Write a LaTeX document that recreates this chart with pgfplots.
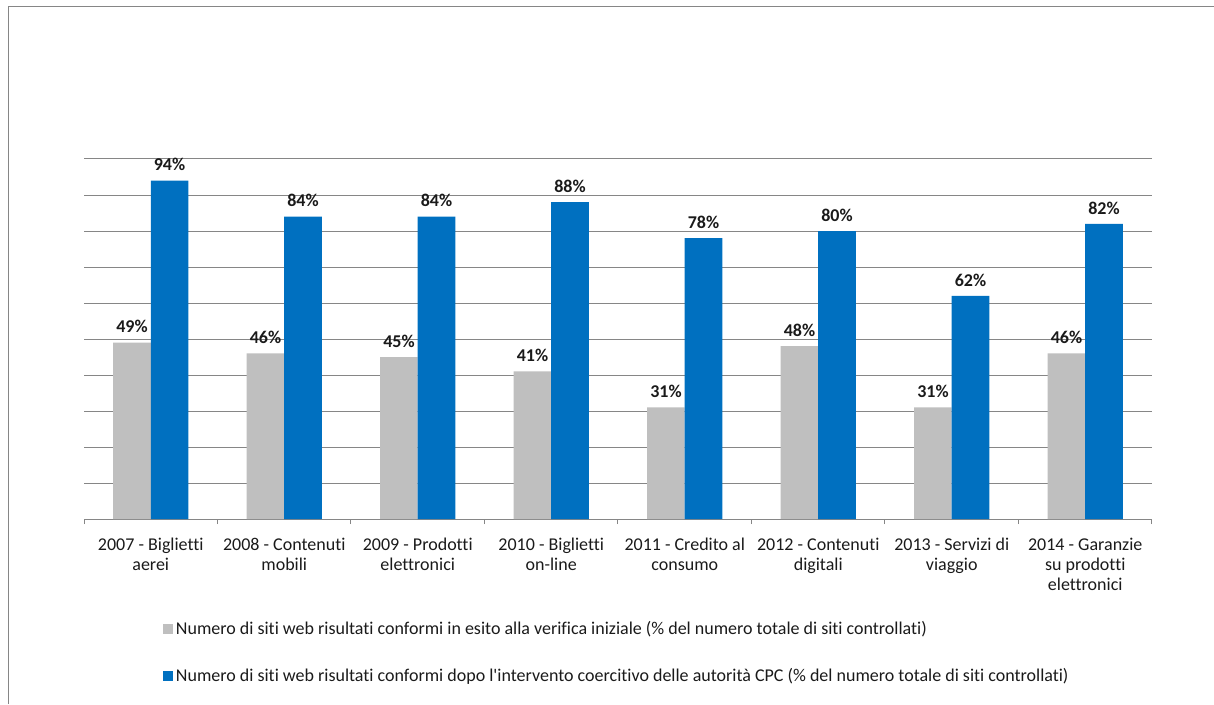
\documentclass[border=0pt]{standalone}
\usepackage{fontspec}
\setmainfont{Carlito}[Ligatures={NoCommon}]
\usepackage{pgfplots}
\pgfplotsset{compat=1.18}
\definecolor{bargray}{RGB}{191,191,191}
\definecolor{barblue}{RGB}{0,112,192}
\definecolor{gridgray}{RGB}{134,134,134}
\definecolor{txt}{RGB}{26,26,26}
\begin{document}
\begin{tikzpicture}
\useasboundingbox (0pt,0pt) rectangle (910.5pt,528pt);
\draw[gridgray, line width=0.75pt] (6pt,0pt) -- (6pt,522.75pt) -- (910.5pt,522.75pt);
\begin{axis}[
  at={(63pt,138.75pt)}, anchor=south west,
  width=801pt, height=270pt, scale only axis,
  xmin=-0.5, xmax=7.5, ymin=0, ymax=100,
  /pgf/number format/assume math mode=true,
  axis x line*=bottom, axis y line*=left,
  y axis line style={draw=none},
  x axis line style={gridgray, line width=0.75pt, -},
  xtick={-0.5,0.5,1.5,2.5,3.5,4.5,5.5,6.5,7.5},
  x tick label as interval,
  xticklabels={{2007 - Biglietti\\aerei},{2008 - Contenuti\\mobili},{2009 - Prodotti\\elettronici},{2010 - Biglietti\\on-line},{2011 - Credito al\\consumo},{2012 - Contenuti\\digitali},{2013 - Servizi di\\viaggio},{2014 - Garanzie\\su prodotti\\elettronici}},
  xticklabel style={align=center, font=\fontsize{13.5}{15}\selectfont, text=txt, yshift=-6.75pt},
  tick align=outside,
  major tick length=3.75pt,
  xtick style={gridgray, line width=0.75pt},
  ytick={0,10,...,100}, yticklabels={}, ytick style={draw=none},
  ymajorgrids, grid style={gridgray, line width=0.75pt},
  ybar=0pt, bar width=0.281,
  clip=false,
  nodes near coords={\pgfmathprintnumber{\pgfplotspointmeta}\%},
  every node near coord/.append style={font=\fontsize{13.5}{15}\selectfont\bfseries, text=txt, inner sep=0pt, yshift=7pt},
  legend style={at={(0.074,-0.275)}, anchor=north west, draw=none, fill=none, inner sep=0pt, font=\fontsize{13.5}{15}\selectfont, text=txt, row sep=20pt, nodes={inner sep=2pt}},
  legend cell align=left,
  legend image code/.code={\fill[#1] (0pt,-3.75pt) rectangle (7.5pt,3.75pt);},
]
\addplot[fill=bargray, draw=none, bar shift=-0.1405] coordinates {(0,49) (1,46) (2,45) (3,41) (4,31) (5,48) (6,31) (7,46)};
\addlegendentry{Numero di siti web risultati conformi in esito alla verifica iniziale (\% del numero totale di siti controllati)}
\addplot[fill=barblue, draw=none, bar shift=0.1405] coordinates {(0,94) (1,84) (2,84) (3,88) (4,78) (5,80) (6,62) (7,82)};
\addlegendentry{Numero di siti web risultati conformi dopo l\textquotesingle intervento coercitivo delle autorità CPC (\% del numero totale di siti controllati)}
\end{axis}
\end{tikzpicture}
\end{document}
